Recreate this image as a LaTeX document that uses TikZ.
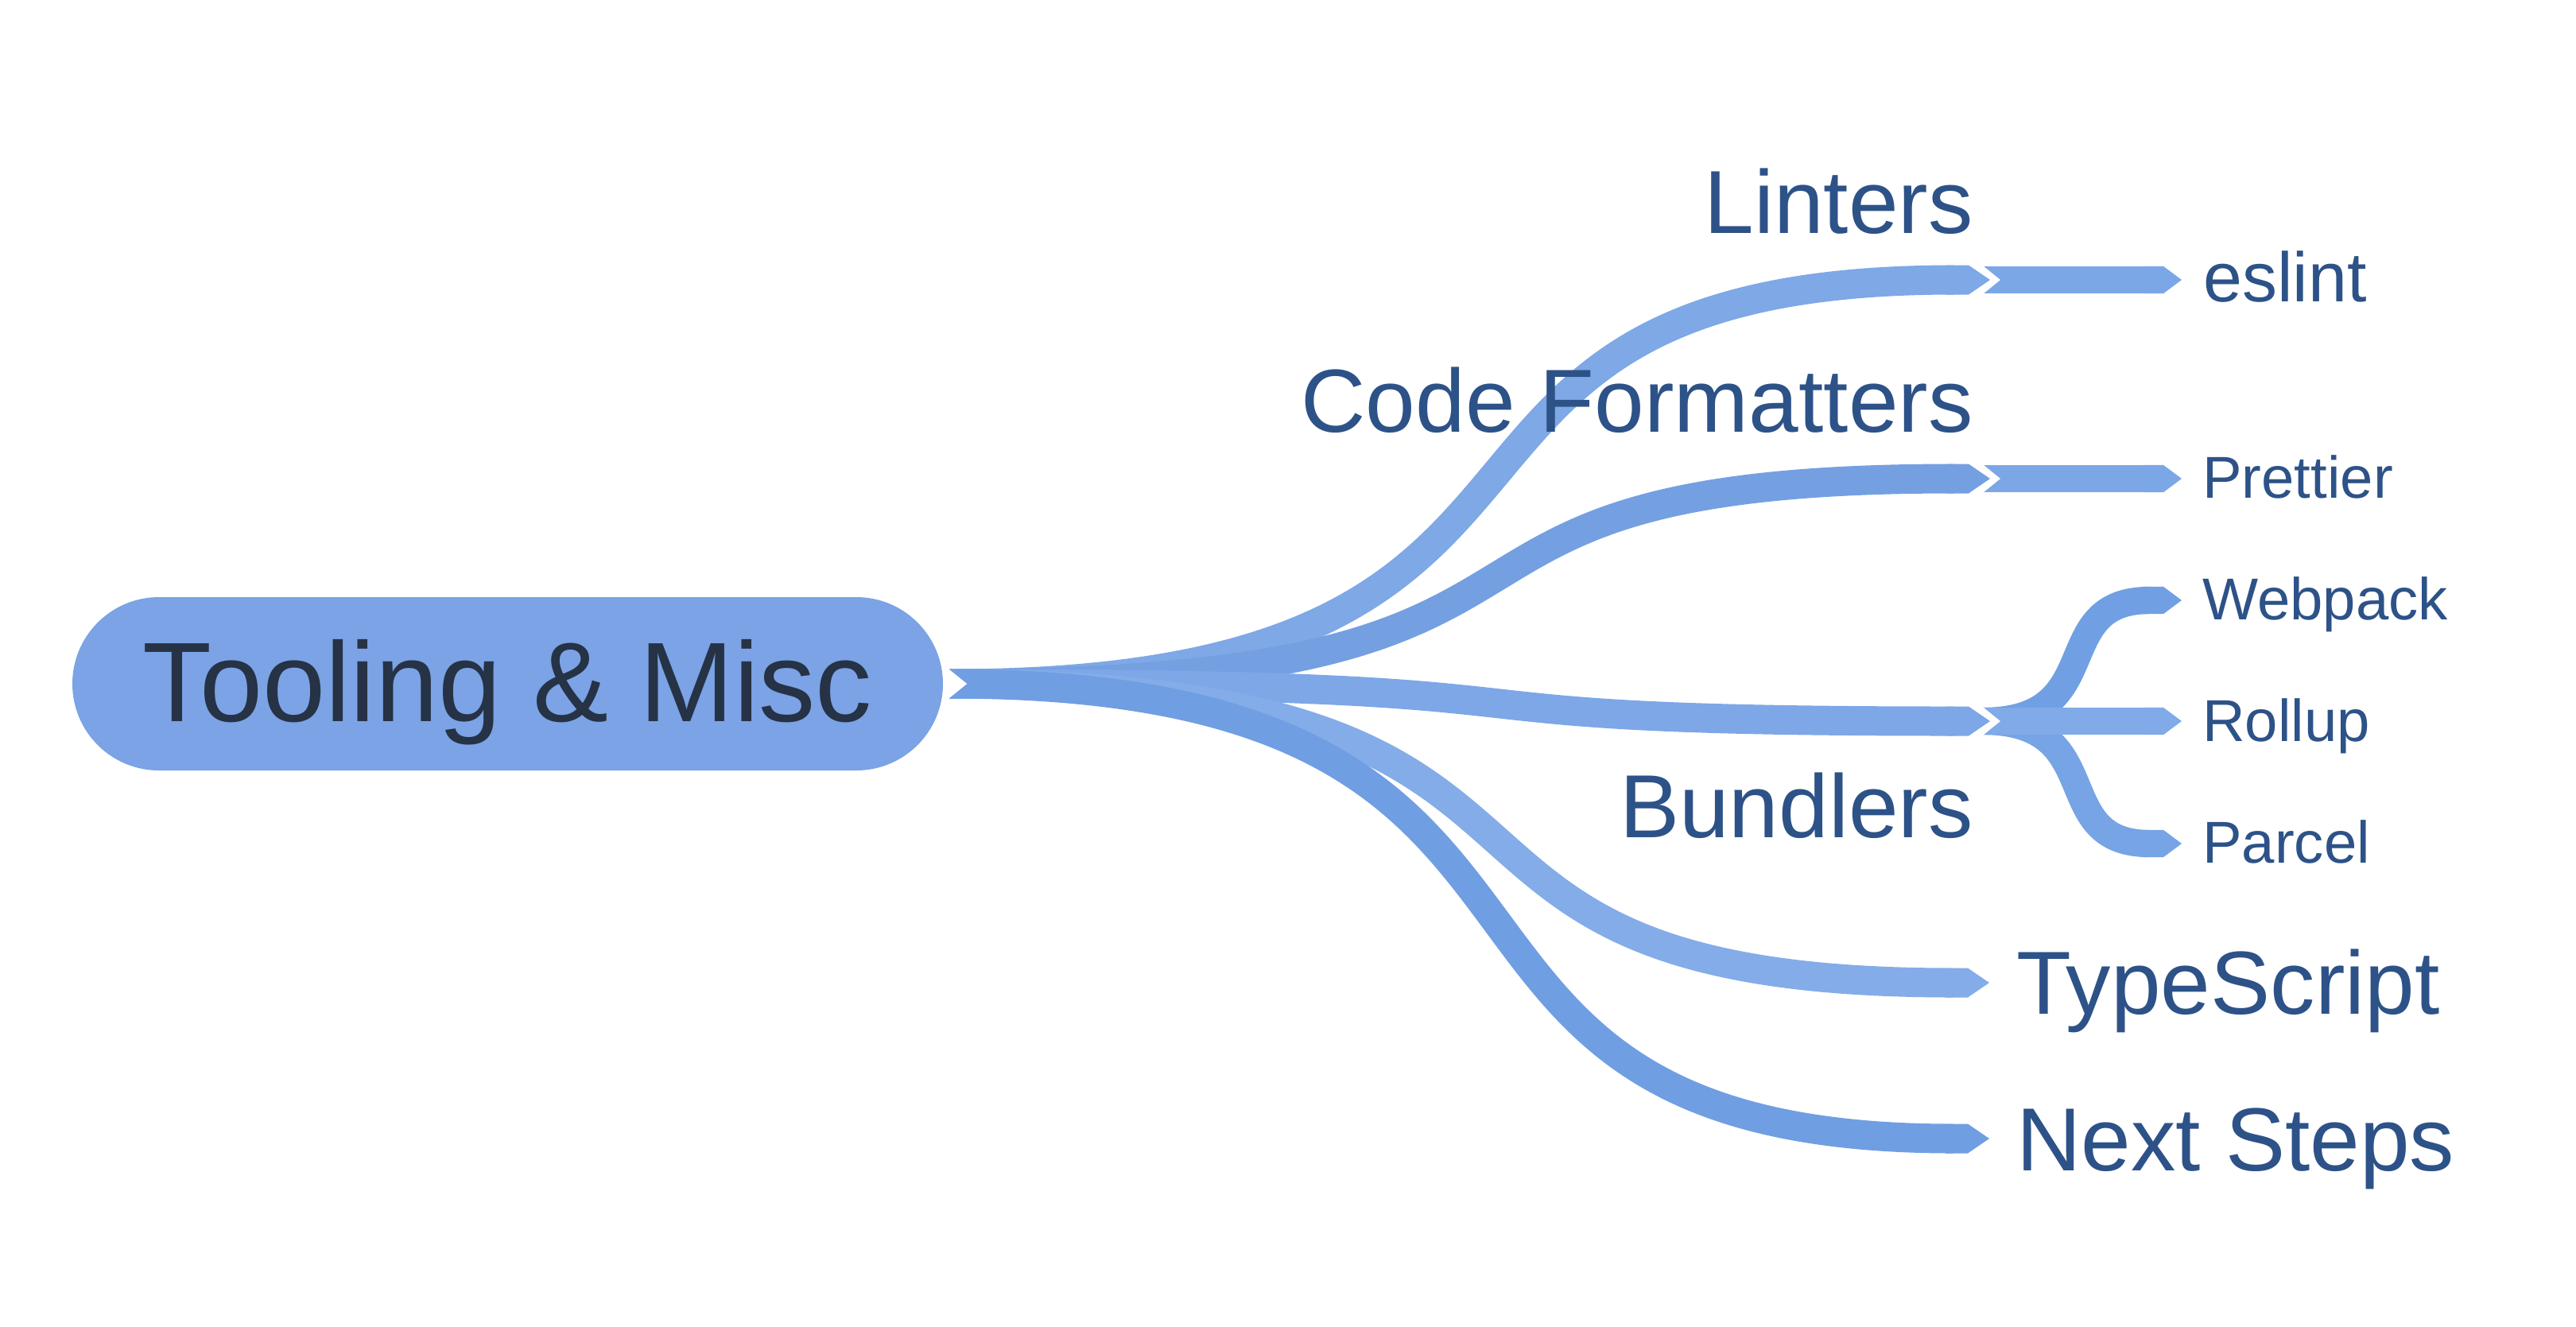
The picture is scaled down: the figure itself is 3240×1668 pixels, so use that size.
\documentclass[tikz,border=0pt]{standalone}
\usepackage{fontspec}
\setmainfont{Liberation Sans}
\usetikzlibrary{arrows.meta}

\definecolor{rootfill}{RGB}{123,163,229}
\definecolor{roottext}{RGB}{38,50,69}
\definecolor{labeltext}{RGB}{45,82,136}
\definecolor{lintc}{RGB}{126,168,230}
\definecolor{fmtc}{RGB}{116,160,226}
\definecolor{bundc}{RGB}{125,167,231}
\definecolor{tsc}{RGB}{132,172,232}
\definecolor{nextc}{RGB}{112,158,226}
\definecolor{eslintc}{RGB}{123,167,231}
\definecolor{prettierc}{RGB}{123,167,231}
\definecolor{webc}{RGB}{112,160,227}
\definecolor{rollc}{RGB}{128,170,232}
\definecolor{parcc}{RGB}{118,164,229}

\tikzset{every picture/.style={line width=0.75pt}}
\tikzset{
  topic/.style={rectangle, rounded corners=32.7pt, fill=rootfill, text=roottext,
    minimum width=328.5pt, minimum height=65.4pt, inner sep=0pt,
    text height=30.6pt, text depth=2pt, font=\fontsize{42.7pt}{50pt}\selectfont},
  branch/.style={line width=11.1pt, -{Triangle Cap[length=8.1pt]}},
  twig/.style={line width=10.3pt, -{Triangle Cap[length=6.9pt]}},
  bigtxt/.style={inner sep=0pt, text=labeltext, font=\fontsize{33.8pt}{40pt}\selectfont},
  smalltxt/.style={inner sep=0pt, text=labeltext, font=\fontsize{22.3pt}{26pt}\selectfont},
}
% white swallow tail cut at the start of a connector
\newcommand{\notchat}[1]{\fill[white] ([shift={(-4,-21)}]#1) -- ([shift={(22,0)}]#1) -- ([shift={(-4,21)}]#1) -- cycle;}

\begin{document}
\begin{tikzpicture}[x=0.3pt,y=0.3pt,yscale=-1,xscale=1]
\useasboundingbox (0,0) rectangle (3240,1668);

% Root
\node[topic] (root) at (638.5,860) {Tooling \& Misc};
\coordinate (s0) at ([xshift=2.1pt]root.east);

% Branch ends
\coordinate (lint) at (2503,352);
\coordinate (fmt) at (2503,602);
\coordinate (bund) at (2503,907);
\coordinate (ts) at (2502,1236);
\coordinate (next) at (2502,1432);

% Child starts and ends
\coordinate (lintS) at (2494,352);
\coordinate (fmtS) at (2494,602);
\coordinate (bundS) at (2494,907);
\coordinate (eslint) at (2744,352);
\coordinate (prettier) at (2744,602);
\coordinate (webpack) at (2744,755);
\coordinate (rollup) at (2744,907);
\coordinate (parcel) at (2744,1061);

% Children
\draw[twig, eslintc] (lintS) -- (eslint);
\draw[twig, prettierc] (fmtS) -- (prettier);
\draw[twig, webc] (bundS) .. controls +(160,0) and +(-170,0) .. (webpack);
\draw[twig, parcc] (bundS) .. controls +(160,0) and +(-170,0) .. (parcel);
\draw[twig, rollc] (bundS) -- (rollup);
\notchat{lintS}
\notchat{fmtS}
\notchat{bundS}

% Branches
\draw[branch, lintc] (s0) .. controls +(900,0) and +(-820,0) .. (lint);
\draw[branch, fmtc] (s0) .. controls +(900,0) and +(-820,0) .. (fmt);
\draw[branch, bundc] (s0) .. controls +(900,0) and +(-820,0) .. (bund);
\draw[branch, tsc] (s0) .. controls +(900,0) and +(-820,0) .. (ts);
\draw[branch, nextc] (s0) .. controls +(900,0) and +(-820,0) .. (next);
\notchat{s0}

% Labels
\node[bigtxt, anchor=base east] (lintL) at (2483,293) {Linters};
\node[bigtxt, anchor=base east] (fmtL) at (2483,543) {Code Formatters};
\node[bigtxt, anchor=base east] (bundL) at (2483,1053) {Bundlers};
\node[bigtxt, anchor=base west] (tsL) at (2535,1275) {TypeScript};
\node[bigtxt, anchor=base west] (nextL) at (2535,1472) {Next Steps};
\node[smalltxt, anchor=base west, font=\fontsize{26.4pt}{30pt}\selectfont] (eslintL) at (2770,379) {eslint};
\node[smalltxt, anchor=base west] (prettierL) at (2769,626) {Prettier};
\node[smalltxt, anchor=base west] (webpackL) at (2769,779) {Webpack};
\node[smalltxt, anchor=base west] (rollupL) at (2769,932) {Rollup};
\node[smalltxt, anchor=base west] (parcelL) at (2769,1085) {Parcel};
\end{tikzpicture}
\end{document}
